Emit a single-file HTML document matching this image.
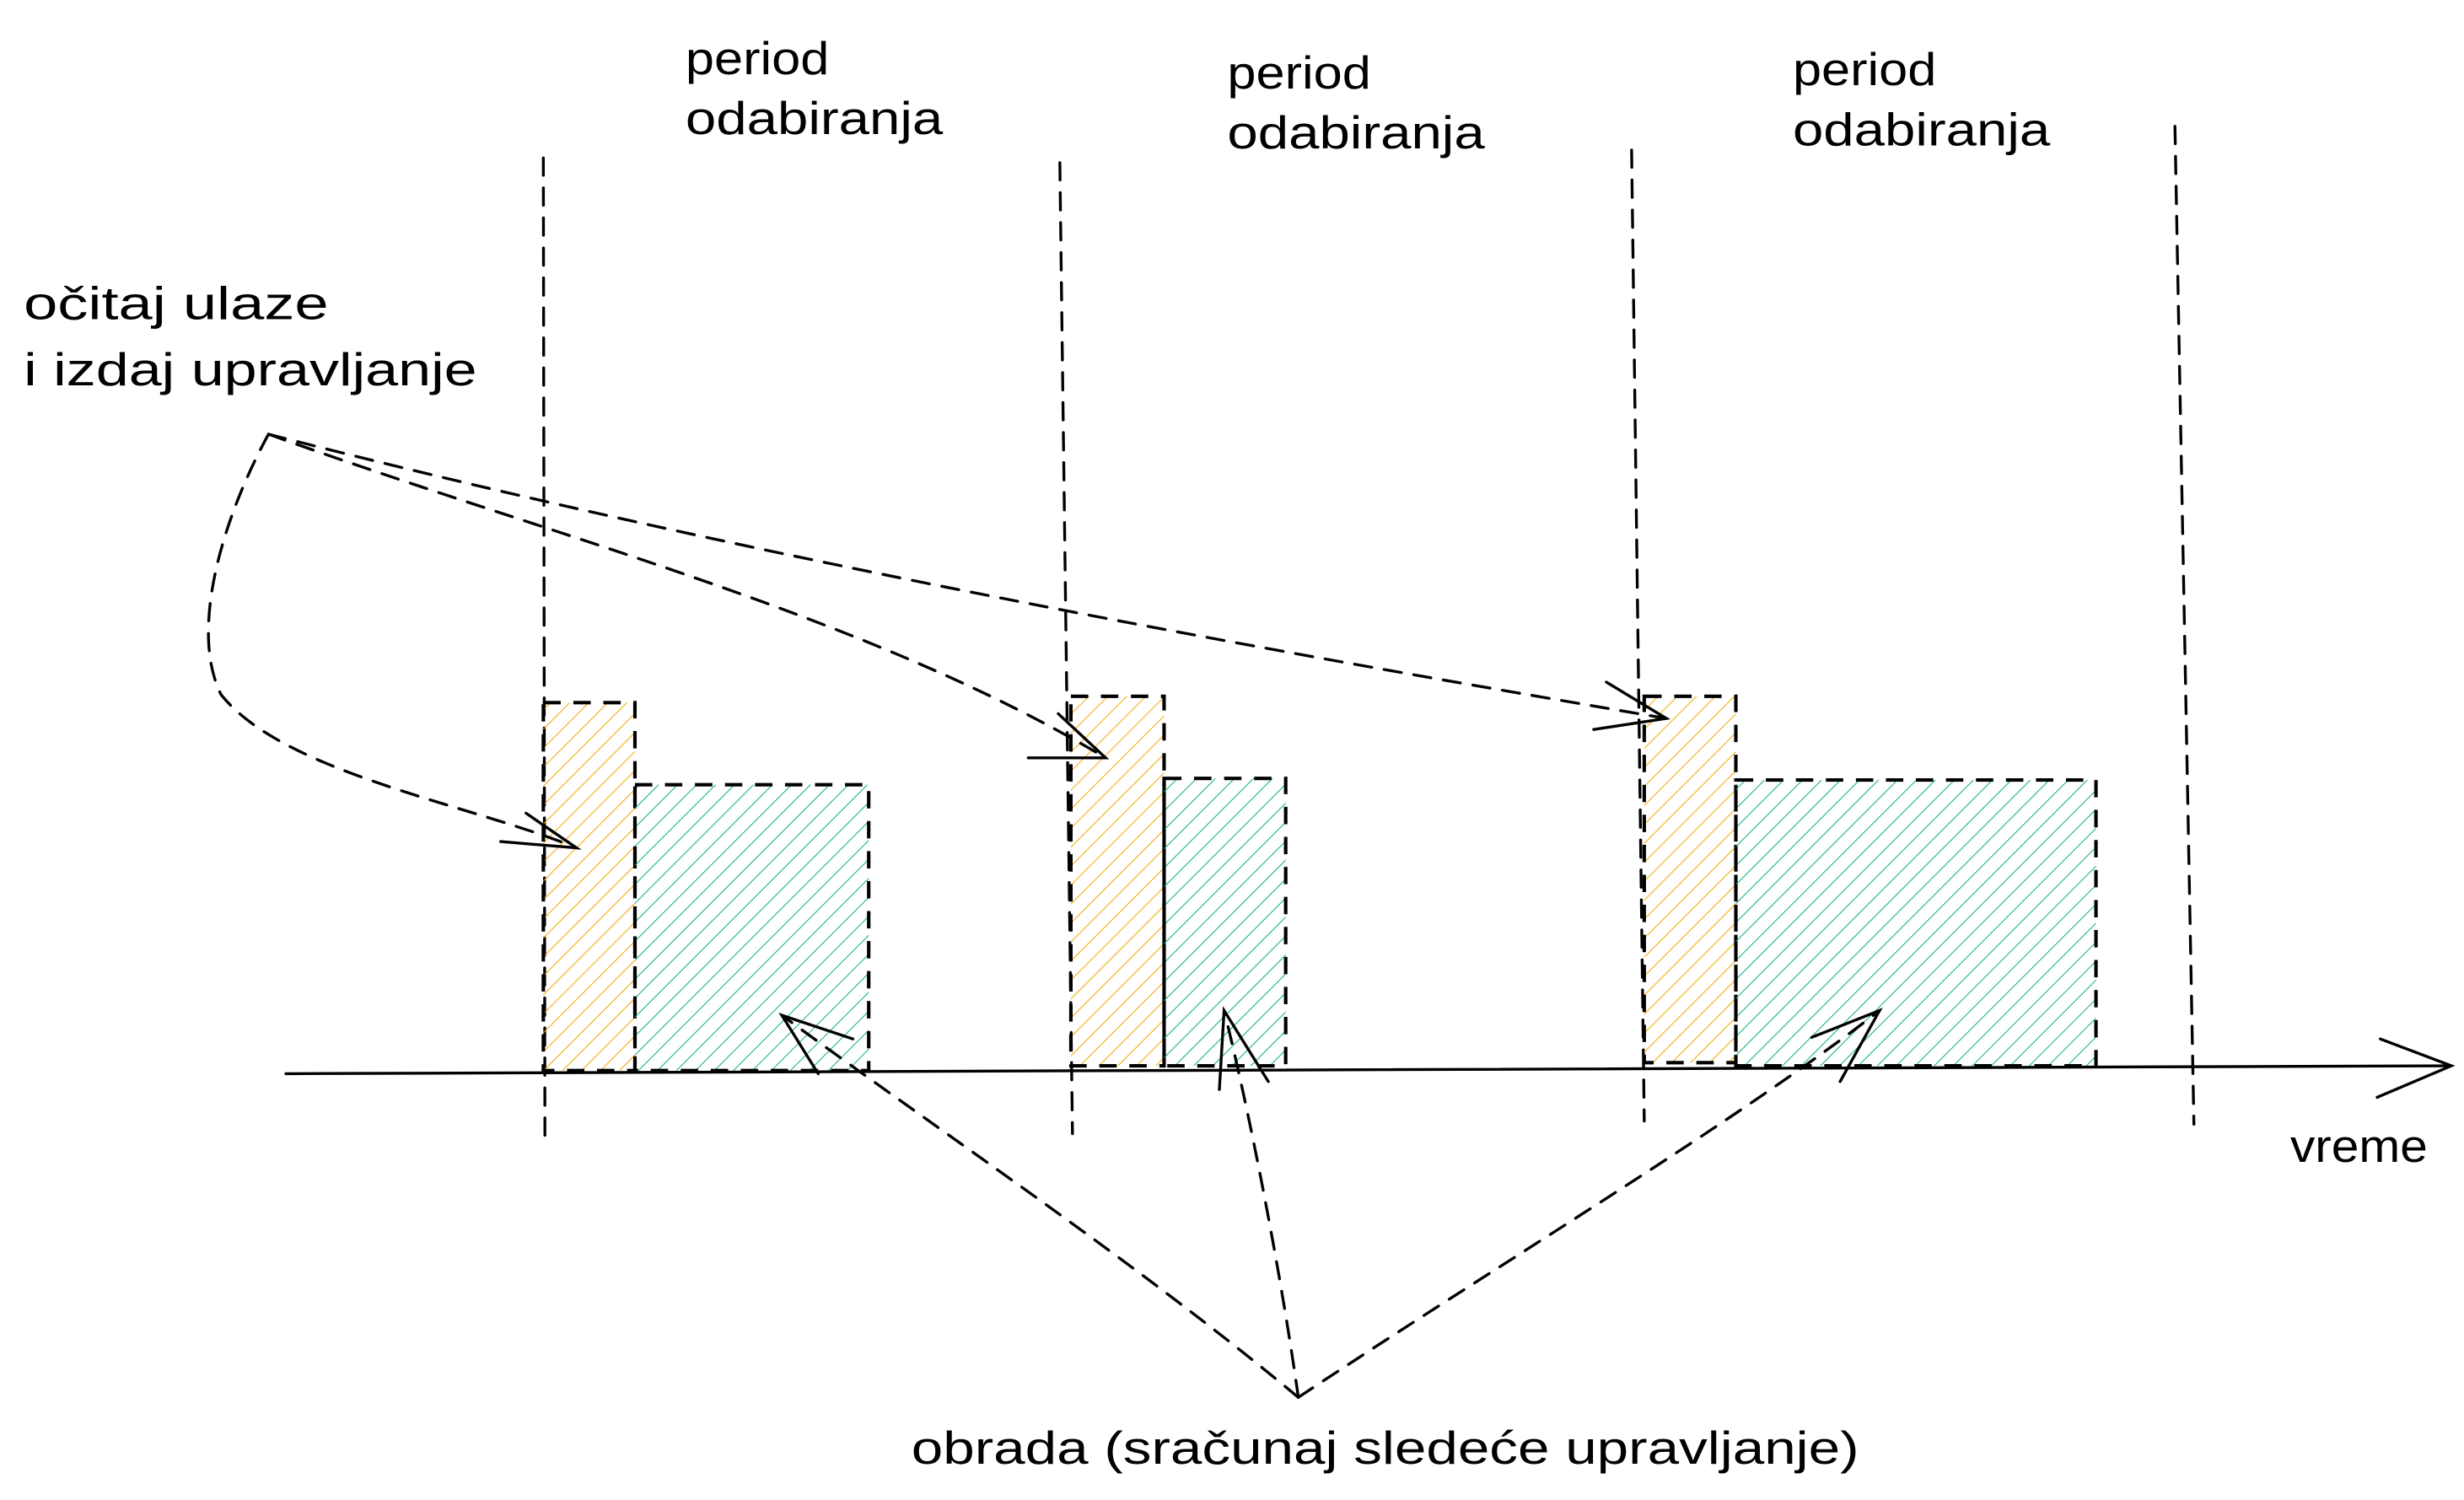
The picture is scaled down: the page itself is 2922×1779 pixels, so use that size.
<!DOCTYPE html>
<html><head><meta charset="utf-8"><style>html,body{margin:0;padding:0;background:#fff}svg{display:block}</style></head>
<body>
<svg width="2922" height="1779" viewBox="0 0 1560 950" preserveAspectRatio="none" xmlns="http://www.w3.org/2000/svg">
<defs>
<pattern id="ho" width="8.5" height="8.5" patternUnits="userSpaceOnUse" patternTransform="rotate(45)"><line x1="0" y1="0" x2="0" y2="8.5" stroke="#f5a800" stroke-width="1.1"/></pattern>
<pattern id="ht" width="8.5" height="8.5" patternUnits="userSpaceOnUse" patternTransform="rotate(45)"><line x1="0" y1="0" x2="0" y2="8.5" stroke="#0fb083" stroke-width="1.1"/></pattern>
</defs>
<g fill="none" stroke="#000" stroke-width="1.8" stroke-dasharray="11 8" stroke-linecap="round">
<line x1="344" y1="100" x2="345" y2="720"/>
<line x1="671" y1="103" x2="679" y2="718"/>
<line x1="1033" y1="95" x2="1041" y2="710"/>
<line x1="1377" y1="80" x2="1389" y2="712"/>
</g>
<g stroke="#000" stroke-width="2.2" stroke-dasharray="11 8">
<rect x="344" y="445" width="58" height="233" fill="url(#ho)"/>
<rect x="402" y="497" width="148" height="181" fill="url(#ht)"/>
<rect x="678" y="441" width="59" height="234" fill="url(#ho)"/>
<rect x="737" y="493" width="77" height="182" fill="url(#ht)"/>
<rect x="1041" y="441" width="58" height="232" fill="url(#ho)"/>
<rect x="1099" y="494" width="228" height="181" fill="url(#ht)"/>
</g>
<g fill="none" stroke="#000" stroke-width="1.8" stroke-linecap="round">
<line x1="181" y1="680" x2="1552" y2="675"/>
<polyline points="1507,658 1552,675 1505,695"/>
</g>
<g fill="none" stroke="#000" stroke-width="1.8" stroke-dasharray="11 8" stroke-linecap="round">
<path d="M170,275 C140,330 120,400 140,440 C180,490 300,510 365,537"/>
<path d="M170,275 C350,340 550,390 700,480"/>
<path d="M170,275 C500,360 850,420 1055,455"/>
<path d="M822,885 C720,800 600,720 495,643"/>
<path d="M822,885 C810,800 790,700 775,640"/>
<path d="M822,885 C950,800 1100,710 1190,640"/>
</g>
<g fill="none" stroke="#000" stroke-width="1.8" stroke-linecap="round">
<polyline points="317,533 365,537 333,515"/>
<polyline points="651,480 700,480 670,452"/>
<polyline points="1009,462 1055,455 1017,432"/>
<polyline points="540,658 495,643 518,680"/>
<polyline points="772,690 775,640 803,685"/>
<polyline points="1147,657 1190,640 1165,685"/>
</g>
<g font-family="Liberation Sans, sans-serif" font-size="29" fill="#000" lengthAdjust="spacingAndGlyphs">
<text x="434" y="47" textLength="91" lengthAdjust="spacingAndGlyphs">period</text><text x="434" y="85" textLength="163" lengthAdjust="spacingAndGlyphs">odabiranja</text>
<text x="777" y="56" textLength="91" lengthAdjust="spacingAndGlyphs">period</text><text x="777" y="94" textLength="163" lengthAdjust="spacingAndGlyphs">odabiranja</text>
<text x="1135" y="54" textLength="91" lengthAdjust="spacingAndGlyphs">period</text><text x="1135" y="92" textLength="163" lengthAdjust="spacingAndGlyphs">odabiranja</text>
<text x="15" y="202" textLength="193" lengthAdjust="spacingAndGlyphs">očitaj ulaze</text>
<text x="15" y="244" textLength="287" lengthAdjust="spacingAndGlyphs">i izdaj upravljanje</text>
<text x="1450" y="736" textLength="87" lengthAdjust="spacingAndGlyphs">vreme</text>
<text x="577" y="927" textLength="600" lengthAdjust="spacingAndGlyphs">obrada (sračunaj sledeće upravljanje)</text>
</g>
</svg>
</body></html>
